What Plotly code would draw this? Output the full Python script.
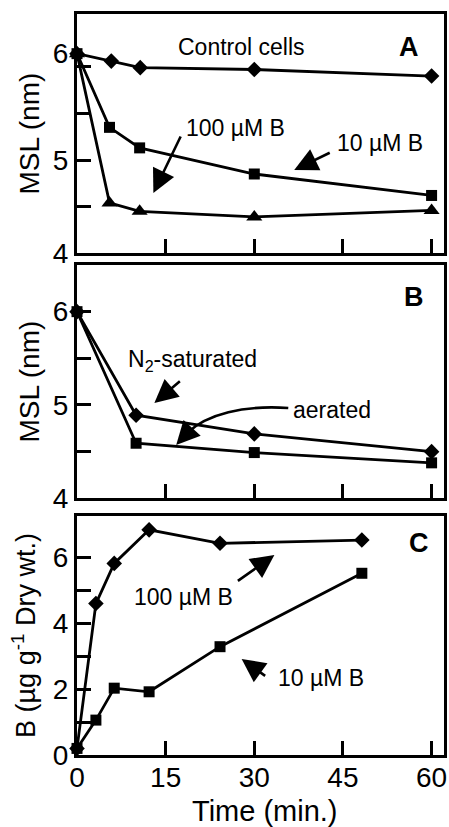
import plotly.graph_objects as go

# ---------------- data ----------------
# Panel A : MSL (nm) vs time
a_time_ctrl = [0, 5.8, 10.7, 30, 60]
a_ctrl = [6.14, 6.06, 5.99, 5.97, 5.90]
a_time = [0, 5.5, 10.6, 30, 60]
a_10uM = [6.14, 5.35, 5.13, 4.85, 4.62]
a_100uM = [6.14, 4.54, 4.45, 4.39, 4.46]
# Panel B : MSL (nm) vs time
b_time = [0, 10, 30, 60]
b_n2 = [6.0, 4.89, 4.69, 4.50]
b_aerated = [6.0, 4.59, 4.49, 4.38]
# Panel C : B uptake vs time
c_time = [0, 3.2, 6.3, 12.2, 24.2, 48.2]
c_100uM = [0.2, 4.6, 5.82, 6.84, 6.43, 6.53]
c_10uM = [0.2, 1.06, 2.03, 1.92, 3.29, 5.52]

x_ticks = [0, 15, 30, 45, 60]

FONT = "Liberation Sans, Arial, Helvetica, sans-serif"
W, H = 449, 827
L, R, T, B = 77, 2, 14, 72


def P(px, py):
    """pixel -> paper coords"""
    return (px - L) / (W - L - R), (H - B - py) / (H - T - B)


def dom(top_px, bot_px):
    return [P(0, bot_px)[1], P(0, top_px)[1]]


fig = go.Figure()

line = dict(color="black", width=2.8)
dia = dict(symbol="diamond", size=12, color="black")
sq = dict(symbol="square", size=11, color="black")
tri = dict(symbol="triangle-up", size=14, color="black")

fig.add_trace(go.Scatter(x=a_time_ctrl, y=a_ctrl, mode="lines+markers", line=line, marker=dia,
                         xaxis="x", yaxis="y", cliponaxis=False))
fig.add_trace(go.Scatter(x=a_time, y=a_100uM, mode="lines+markers", line=line, marker=tri,
                         xaxis="x", yaxis="y", cliponaxis=False))
fig.add_trace(go.Scatter(x=a_time, y=a_10uM, mode="lines+markers", line=line, marker=sq,
                         xaxis="x", yaxis="y", cliponaxis=False))

fig.add_trace(go.Scatter(x=b_time, y=b_n2, mode="lines+markers", line=line, marker=dia,
                         xaxis="x2", yaxis="y2", cliponaxis=False))
fig.add_trace(go.Scatter(x=b_time, y=b_aerated, mode="lines+markers", line=line, marker=sq,
                         xaxis="x2", yaxis="y2", cliponaxis=False))

fig.add_trace(go.Scatter(x=c_time, y=c_100uM, mode="lines+markers", line=line, marker=dia,
                         xaxis="x3", yaxis="y3", cliponaxis=False))
fig.add_trace(go.Scatter(x=c_time, y=c_10uM, mode="lines+markers", line=line, marker=sq,
                         xaxis="x3", yaxis="y3", cliponaxis=False))

tickfont = dict(family=FONT, size=28, color="black")
axcommon = dict(showline=True, linecolor="black", linewidth=3, mirror=True, showgrid=False,
                zeroline=False, ticks="inside", ticklen=14, tickwidth=3, tickcolor="black",
                tickfont=tickfont)

xr = [0, 62.1]
dA, dB, dC = dom(14, 253.3), dom(265, 498.3), dom(516, 755)

layout = dict(
    width=W, height=H, margin=dict(l=L, r=R, t=T, b=B),
    plot_bgcolor="white", paper_bgcolor="white", showlegend=False,
    font=dict(family=FONT, color="black"),
    xaxis=dict(axcommon, domain=[0, 1], range=xr, anchor="y", tickvals=[15, 30, 45, 60], showticklabels=False),
    xaxis2=dict(axcommon, domain=[0, 1], range=xr, anchor="y2", tickvals=[15, 30, 45, 60], showticklabels=False),
    xaxis3=dict(axcommon, domain=[0, 1], range=xr, anchor="y3", tickvals=x_ticks,
                ticktext=[str(v) for v in x_ticks], ticklabelstandoff=-5),
    yaxis=dict(axcommon, domain=dA, range=[4, 6.565], anchor="x", tickvals=[4, 5, 6.14],
               ticktext=["4", "5", "6"], ticks="",
               minor=dict(tickvals=[4.5, 5, 5.5, 6], ticks="inside", ticklen=14, tickwidth=3, tickcolor="black"),
               title=dict(text="MSL (nm)", font=dict(family=FONT, size=28), standoff=6)),
    yaxis2=dict(axcommon, domain=dB, range=[4, 6.5], anchor="x2", tickvals=[4, 5, 6],
                minor=dict(tickvals=[4.5, 5.5], ticks="inside", ticklen=14, tickwidth=3, tickcolor="black"),
                title=dict(text="MSL (nm)", font=dict(family=FONT, size=28), standoff=6)),
    yaxis3=dict(axcommon, domain=dC, range=[0, 7.26], anchor="x3", tickvals=[0, 2, 4, 6],
                minor=dict(tickvals=[1, 3, 5], ticks="inside", ticklen=14, tickwidth=3, tickcolor="black"),
                title=dict(text="B (µg g<sup>-1</sup> Dry wt.)", font=dict(family=FONT, size=27), standoff=10)),
)
fig.update_layout(**layout)

ann = []


def text(px, py, s, size=23, bold=False):
    x, y = P(px, py)
    ann.append(dict(x=x, y=y, xref="paper", yref="paper", text=f"<b>{s}</b>" if bold else s,
                    showarrow=False, xanchor="center", yanchor="middle",
                    font=dict(family=FONT, size=size, color="black")))


def arrow(hx, hy, tx, ty):
    x, y = P(hx, hy)
    ann.append(dict(x=x, y=y, xref="paper", yref="paper", text="", showarrow=True,
                    ax=tx - hx, ay=ty - hy, arrowhead=2, arrowsize=1.8, arrowwidth=2.6,
                    arrowcolor="black", standoff=0))


# x-axis title
text(267, 811, "Time (min.)", size=29)
# panel A
text(243, 47, "Control cells")
text(412, 47, "A", size=27, bold=True)
text(237, 128, "100 µM B")
arrow(154, 193, 182, 135)
text(382, 143, "10 µM B")
arrow(296, 170, 333, 152)
# panel B
text(417, 297, "B", size=27, bold=True)
text(193, 360, "N<sub>2</sub>-saturated")
arrow(155, 403, 182, 380)
text(334, 410, "aerated")
# curved arrow for aerated
pts = [P(290, 408), P(245, 405), P(208, 414), P(188, 433)]
path = "M {} {} C {} {}, {} {}, {} {}".format(*[v for p in pts for v in p])
fig.add_shape(type="path", path=path, xref="paper", yref="paper",
              line=dict(color="black", width=2.6))
arrow(177, 445, 190, 431)
# panel C
text(422, 543, "C", size=27, bold=True)
text(184, 597, "100 µM B")
arrow(276, 555, 238, 582)
text(323, 678, "10 µM B")
arrow(243, 659, 268, 677)

fig.update_layout(annotations=ann)
fig.write_html("out.html", config={"displayModeBar": False},
               post_script="document.body.style.margin='0';document.body.style.overflow='hidden';")
